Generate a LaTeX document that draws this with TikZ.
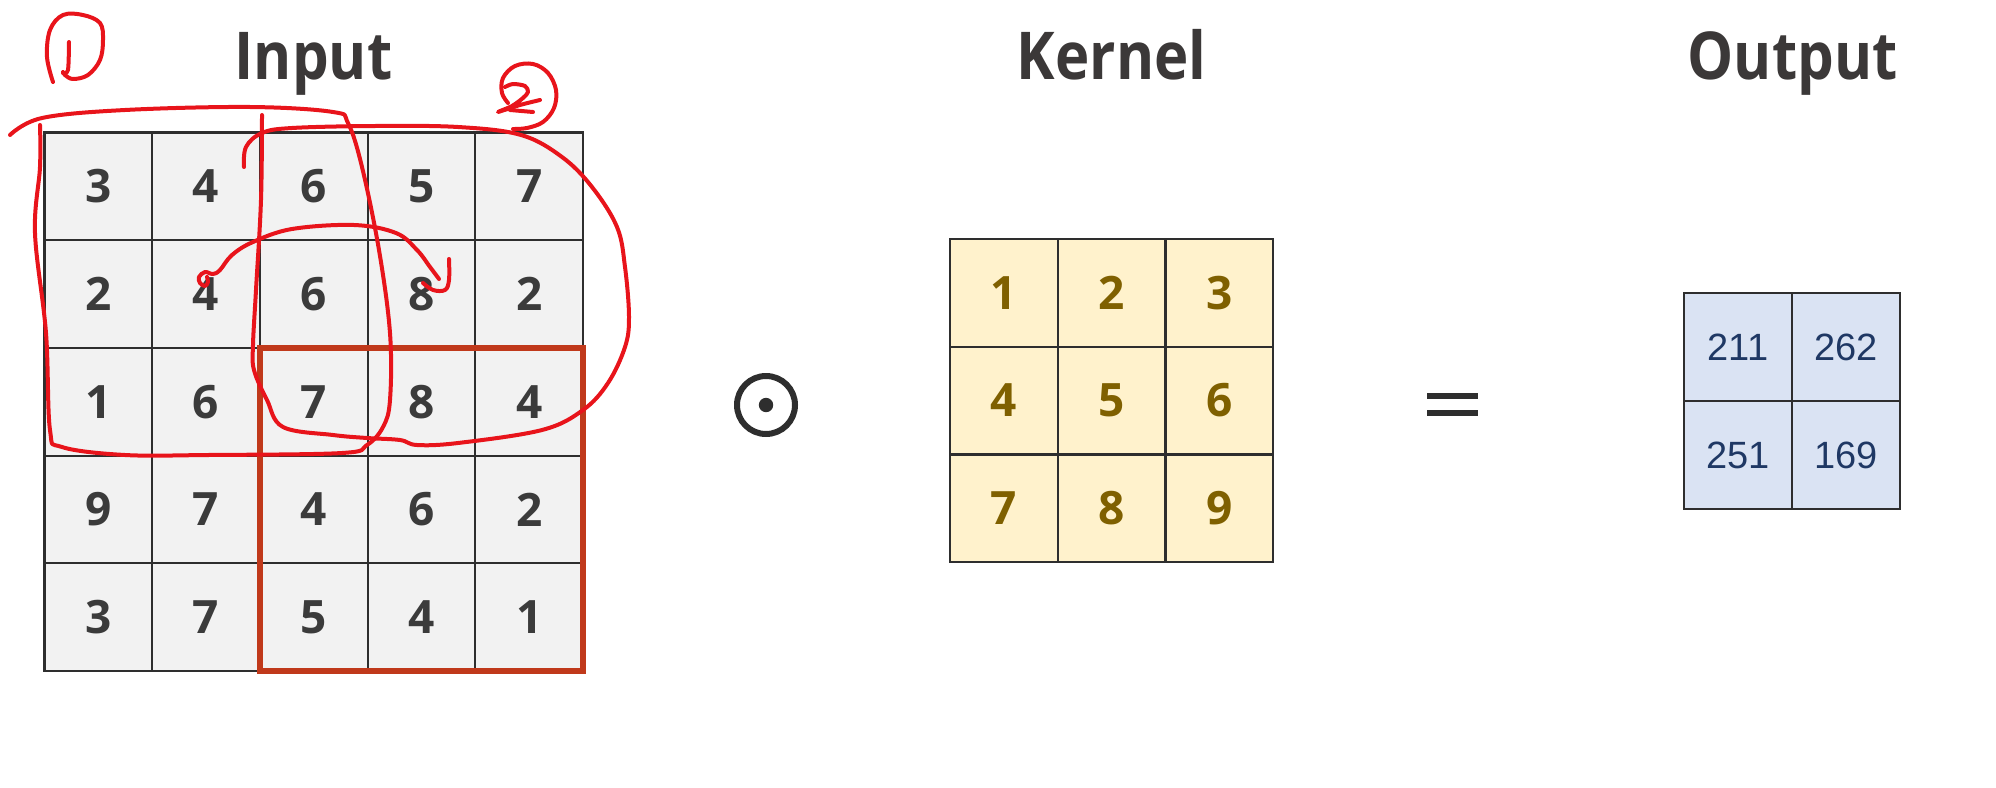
\documentclass[tikz,border=0pt]{standalone}
\usepackage{fontspec}
\setmainfont{Open Sans}
\newfontfamily\titlefont[FakeStretch=0.88]{Open Sans}
\newfontfamily\arialfont{Liberation Sans}
\usetikzlibrary{positioning}
\definecolor{GridLine}{HTML}{2E2E2E}
\definecolor{InFill}{HTML}{F2F2F2}
\definecolor{InText}{HTML}{3B3B3B}
\definecolor{KerFill}{HTML}{FFF2CC}
\definecolor{KerText}{HTML}{7F6000}
\definecolor{OutFill}{HTML}{DAE3F3}
\definecolor{OutText}{HTML}{1F3864}
\definecolor{TitleText}{HTML}{3B3838}
\definecolor{BoxRed}{HTML}{C0391B}
\definecolor{HandRed}{HTML}{E8141B}

\begin{document}
\begin{tikzpicture}[
    x=0.5pt, y=-0.5pt,
    cell/.style={rectangle, draw=GridLine, line width=1.1pt, minimum size=53.85pt, inner sep=0pt, outer sep=0pt},
    incell/.style={cell, fill=InFill, text=InText, font=\fontsize{23}{23}\selectfont\bfseries},
    kercell/.style={cell, fill=KerFill, text=KerText, font=\fontsize{23}{23}\selectfont\bfseries},
    outcell/.style={cell, fill=OutFill, text=OutText, font=\arialfont\fontsize{19}{19}\selectfont},
    title/.style={anchor=base, text=TitleText, font=\titlefont\fontsize{33}{33}\selectfont\bfseries},
    hand/.style={draw=HandRed, line width=2pt, line cap=round, line join=round}
  ]
    \path[use as bounding box] (0,0) rectangle (1996,787);

    % titles
    \node[title] (tin) at (313.5,79) {Input};
    \node[title] (tker) at (1111.5,79) {Kernel};
    \node[title] (tout) at (1792.5,79) {Output};

    % input matrix
    \foreach \row [count=\i] in {{3,4,6,5,7},{2,4,6,8,2},{1,6,7,8,4},{9,7,4,6,2},{3,7,5,4,1}}
      \foreach \v [count=\j] in \row
        \node[incell] (in-\i-\j) at ({44.5+107.7*(\j-0.5)},{132.5+107.7*(\i-0.5)}) {\v};

    % kernel
    \foreach \row [count=\i] in {{1,2,3},{4,5,6},{7,8,9}}
      \foreach \v [count=\j] in \row
        \node[kercell] (ker-\i-\j) at ({950+107.7*(\j-0.5)},{239+107.7*(\i-0.5)}) {\v};

    % output
    \foreach \row [count=\i] in {{211,262},{251,169}}
      \foreach \v [count=\j] in \row
        \node[outcell] (out-\i-\j) at ({1684+108*(\j-0.5)},{293+108*(\i-0.5)}) {\v};

    % window
    \draw[BoxRed, line width=2.8pt] (in-3-3.north west) rectangle (in-5-5.south east);

    % operators
    \node[circle, draw=GridLine, line width=3pt, minimum size=29pt, inner sep=0pt] (odot) at (766,405) {};
    \fill[GridLine] (odot.center) circle (3.6pt);
    \draw[GridLine, line width=3pt] (1427,396) -- (1478,396);
    \draw[GridLine, line width=3pt] (1427,413) -- (1478,413);

    % pen marks
    \draw[hand] plot[smooth, tension=0.6] coordinates {(53,82) (47,57) (50,30) (63,15) (83,15) (100,23) (103,40) (100,60) (88,75) (73,79) (65,75) (63,72)};
    \draw[hand] plot[smooth] coordinates {(69,42) (68,70) (63,73)};
    \draw[hand] plot[smooth, tension=0.6] coordinates {(10,135) (42,118) (125,110) (250,107) (333,112) (348,123) (362,167) (379,250) (390,333) (390,400) (383,427) (367,445) (342,453) (208,455) (125,455) (62,447) (50,430) (46,333) (35,233) (40,167) (40,125)};
    \draw[hand] plot[smooth, tension=0.6] coordinates {(262,115) (261,200) (256,290) (253,345) (254,370) (267,400) (283,427) (333,435) (367,438) (400,440) (417,445) (458,443) (542,430) (583,410) (608,383) (625,347) (629,317) (625,267) (617,227) (592,187) (562,157) (521,135) (458,127) (375,126) (292,128) (262,133) (246,147) (244,167)};
    \draw[hand] plot[smooth, tension=0.6] coordinates {(207,277) (208,282) (205,286) (200,283) (199,277) (205,272) (213,274) (220,270) (232,255) (253,242) (292,229) (354,225) (396,233) (417,250) (430,267) (439,279)};
    \draw[hand] plot[smooth, tension=0.6] coordinates {(423,283) (433,290) (445,290) (449,280) (449,259)};
    \draw[hand] plot[smooth, tension=0.5] coordinates {(505,87) (513,84) (525,86) (528,92) (523,98) (512,106) (498,112) (520,105) (540,100)};
    \draw[hand] (510,110) -- (533,112);
    \draw[hand] plot[smooth, tension=0.6] coordinates {(513,129) (527,128) (543,122) (554,108) (556,90) (548,73) (533,64) (515,66) (503,78) (502,93) (508,103)};
  \end{tikzpicture}
\end{document}
